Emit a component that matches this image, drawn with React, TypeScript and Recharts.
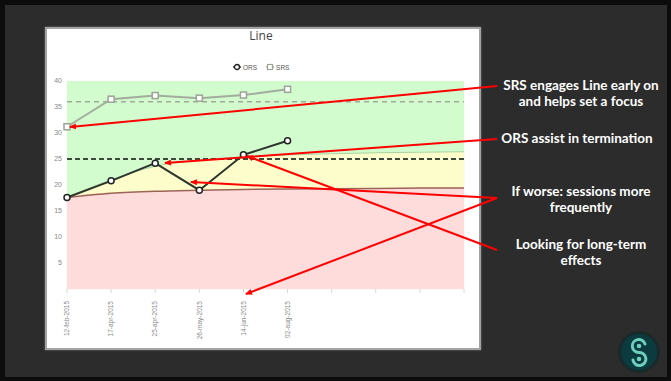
import React from "react";
import {
  ComposedChart,
  Area,
  Line,
  XAxis,
  YAxis,
  CartesianGrid,
  ReferenceLine,
} from "recharts";

// categories (last four are empty future slots on the axis)
const dates = [
  "12-feb-2015",
  "17-apr-2015",
  "25-apr-2015",
  "26-may-2015",
  "14-jun-2015",
  "02-aug-2015",
  "",
  "",
  "",
  "",
];

const orsValues = [17.6, 20.8, 24.2, 19.0, 25.8, 28.5];
const srsValues = [31.2, 36.5, 37.2, 36.7, 37.3, 38.4];

// expected-trajectory band edges
const upperBound = [17.6, 21.0, 23.6, 24.8, 25.4, 25.8, 26.0, 26.2, 26.3, 26.4];
const lowerBound = [17.6, 18.4, 18.8, 19.0, 19.15, 19.25, 19.3, 19.35, 19.4, 19.4];

const yMax = 40;
const srsCutoff = 36;
const orsCutoff = 25;
const yTicks = [5, 10, 15, 20, 25, 30, 35, 40];

const data = dates.map((date, i) => ({
  key: i,
  date,
  ors: orsValues[i] ?? null,
  srs: srsValues[i] ?? null,
  upper: upperBound[i],
  lower: lowerBound[i],
  red: [0, lowerBound[i]],
  yellow: [lowerBound[i], upperBound[i]],
  green: [upperBound[i], yMax],
}));

const XTick = (props: any) => {
  const { x, y, payload } = props;
  return (
    <text
      x={x}
      y={y}
      dy="0.35em"
      transform={`rotate(-90, ${x}, ${y})`}
      textAnchor="end"
      fontSize={6.5}
      fill="#8a8a8a"
      fontFamily="Liberation Sans, Arial, sans-serif"
    >
      {payload.value}
    </text>
  );
};

const SquareDot = (props: any) => {
  const { cx, cy, key } = props;
  if (cx == null || cy == null) return null;
  return (
    <rect
      key={key}
      x={cx - 3}
      y={cy - 3}
      width={6}
      height={6}
      fill="#fff"
      stroke="#9aa596"
      strokeWidth={1.5}
    />
  );
};

const notes = [
  { lines: ["SRS engages Line early on", "and helps set a focus"], x: 581, y: 90 },
  { lines: ["ORS assist in termination"], x: 577, y: 143 },
  { lines: ["If worse: sessions more", "frequently"], x: 581, y: 196 },
  { lines: ["Looking for long-term", "effects"], x: 581, y: 249 },
];

const arrows = [
  [497, 86, 70, 127],
  [497, 139, 165, 163],
  [497, 198, 191, 182],
  [497, 198, 246, 294],
  [497, 250, 247, 156],
];

export default function App() {
  return (
    <div
      style={{
        position: "absolute",
        left: 0,
        top: 0,
        width: 671,
        height: 381,
        background: "#0c0c0c",
        overflow: "hidden",
        fontFamily: "Lato, sans-serif",
      }}
    >
      <div
        style={{
          position: "absolute",
          left: 5,
          top: 5,
          width: 662,
          height: 372,
          background: "#2c2c2c",
        }}
      />

      {/* chart card */}
      <div
        style={{
          position: "absolute",
          left: 45,
          top: 27,
          width: 432,
          height: 319,
          background: "#fff",
          border: "2px solid #a3a3a3",
          boxShadow: "0 0 2px #777",
        }}
      >
        <div
          style={{
            position: "absolute",
            left: 0,
            top: 0,
            width: 428,
            textAlign: "center",
            fontFamily: "Open Sans, sans-serif",
            fontSize: 12,
            color: "#444",
            lineHeight: "14px",
          }}
        >
          Line
        </div>
        <div
          style={{
            position: "absolute",
            left: 186,
            top: 34,
            display: "flex",
            alignItems: "center",
            fontFamily: "Liberation Sans, Arial, sans-serif",
            fontSize: 6.5,
            color: "#555",
          }}
        >
          <svg width={8} height={8}>
            <line x1={0} y1={4} x2={8} y2={4} stroke="#333" strokeWidth={1.5} />
            <circle cx={4} cy={4} r={2.5} fill="#fff" stroke="#222" strokeWidth={1.3} />
          </svg>
          <span style={{ marginLeft: 2, marginRight: 9 }}>ORS</span>
          <svg width={8} height={8}>
            <line x1={0} y1={4} x2={8} y2={4} stroke="#aab3a6" strokeWidth={1.5} />
            <rect x={1.5} y={1.5} width={5} height={5} fill="#fff" stroke="#9aa596" strokeWidth={1.2} />
          </svg>
          <span style={{ marginLeft: 2 }}>SRS</span>
        </div>

        <div style={{ position: "absolute", left: 0, top: 0 }}>
          <ComposedChart
            width={430}
            height={318}
            data={data}
            margin={{ top: 52, right: 13, bottom: 0, left: 4 }}
          >
            <Area
              dataKey="red"
              type="monotone"
              fill="#ffdcdc"
              fillOpacity={1}
              stroke="none"
              isAnimationActive={false}
            />
            <Area
              dataKey="yellow"
              type="monotone"
              fill="#fdfdcb"
              fillOpacity={1}
              stroke="none"
              isAnimationActive={false}
            />
            <Area
              dataKey="green"
              type="monotone"
              fill="#d2fbce"
              fillOpacity={1}
              stroke="none"
              isAnimationActive={false}
            />
            <CartesianGrid stroke="#000" strokeOpacity={0.04} />
            <XAxis
              dataKey="date"
              axisLine={false}
              tickLine={{ stroke: "#d8d8d8" }}
              tickSize={4}
              tickMargin={8}
              interval={0}
              height={58}
              tick={<XTick />}
            />
            <YAxis
              domain={[0, yMax]}
              ticks={yTicks}
              width={16}
              axisLine={false}
              tickLine={false}
              tickSize={0}
              tickMargin={5}
              tick={{ fontSize: 7, fill: "#888", fontFamily: "Liberation Sans, Arial, sans-serif" }}
            />
            <Line
              dataKey="upper"
              type="monotone"
              stroke="#a9d69c"
              strokeWidth={1}
              dot={false}
              activeDot={false}
              isAnimationActive={false}
            />
            <Line
              dataKey="lower"
              type="monotone"
              stroke="#9c6458"
              strokeWidth={1.5}
              dot={false}
              activeDot={false}
              isAnimationActive={false}
            />
            <ReferenceLine
              y={srsCutoff}
              stroke="#9fab9a"
              strokeWidth={1.5}
              strokeDasharray="5 4"
            />
            <ReferenceLine
              y={orsCutoff}
              stroke="#3b4a3b"
              strokeWidth={2}
              strokeDasharray="5 3"
            />
            <Line
              dataKey="srs"
              stroke="#a3ad9e"
              strokeWidth={2}
              dot={<SquareDot />}
              activeDot={false}
              isAnimationActive={false}
            />
            <Line
              dataKey="ors"
              stroke="#2c362c"
              strokeWidth={2}
              dot={{ r: 3, fill: "#fff", stroke: "#222", strokeWidth: 1.5 }}
              activeDot={false}
              isAnimationActive={false}
            />
          </ComposedChart>
        </div>
      </div>

      {/* annotations */}
      <svg
        width={671}
        height={381}
        style={{ position: "absolute", left: 0, top: 0, pointerEvents: "none" }}
      >
        <defs>
          <marker
            id="head"
            markerWidth={7}
            markerHeight={6}
            refX={6}
            refY={3}
            orient="auto"
            markerUnits="userSpaceOnUse"
          >
            <path d="M0,0 L7,3 L0,6 Z" fill="#ff0000" />
          </marker>
        </defs>
        {arrows.map(([x1, y1, x2, y2], i) => (
          <line
            key={i}
            x1={x1}
            y1={y1}
            x2={x2}
            y2={y2}
            stroke="#ff0000"
            strokeWidth={2}
            markerEnd="url(#head)"
          />
        ))}
        {notes.map((n, i) => (
          <text
            key={i}
            x={n.x}
            y={n.y}
            textAnchor="middle"
            fill="#fff"
            fontSize={13.5}
            fontWeight="bold"
            fontFamily="Lato, sans-serif"
          >
            {n.lines.map((l, j) => (
              <tspan key={j} x={n.x} dy={j === 0 ? 0 : 15.5}>
                {l}
              </tspan>
            ))}
          </text>
        ))}

        {/* logo */}
        <circle cx={639} cy={352} r={21} fill="#1a2a2b" />
        <circle cx={639} cy={352} r={18} fill="#0b3a3f" />
        <path
          d="M645,344 A6.5,6.5 0 1 0 639,352.5"
          fill="none"
          stroke="#6fcfbd"
          strokeWidth={3}
          strokeLinecap="round"
        />
        <path
          d="M633,360 A6.5,6.5 0 1 0 639,352.5"
          fill="none"
          stroke="#6fcfbd"
          strokeWidth={3}
          strokeLinecap="round"
        />
        <circle cx={639} cy={346} r={2.3} fill="#6fcfbd" />
        <circle cx={639} cy={359} r={2.3} fill="#6fcfbd" />
      </svg>
    </div>
  );
}
